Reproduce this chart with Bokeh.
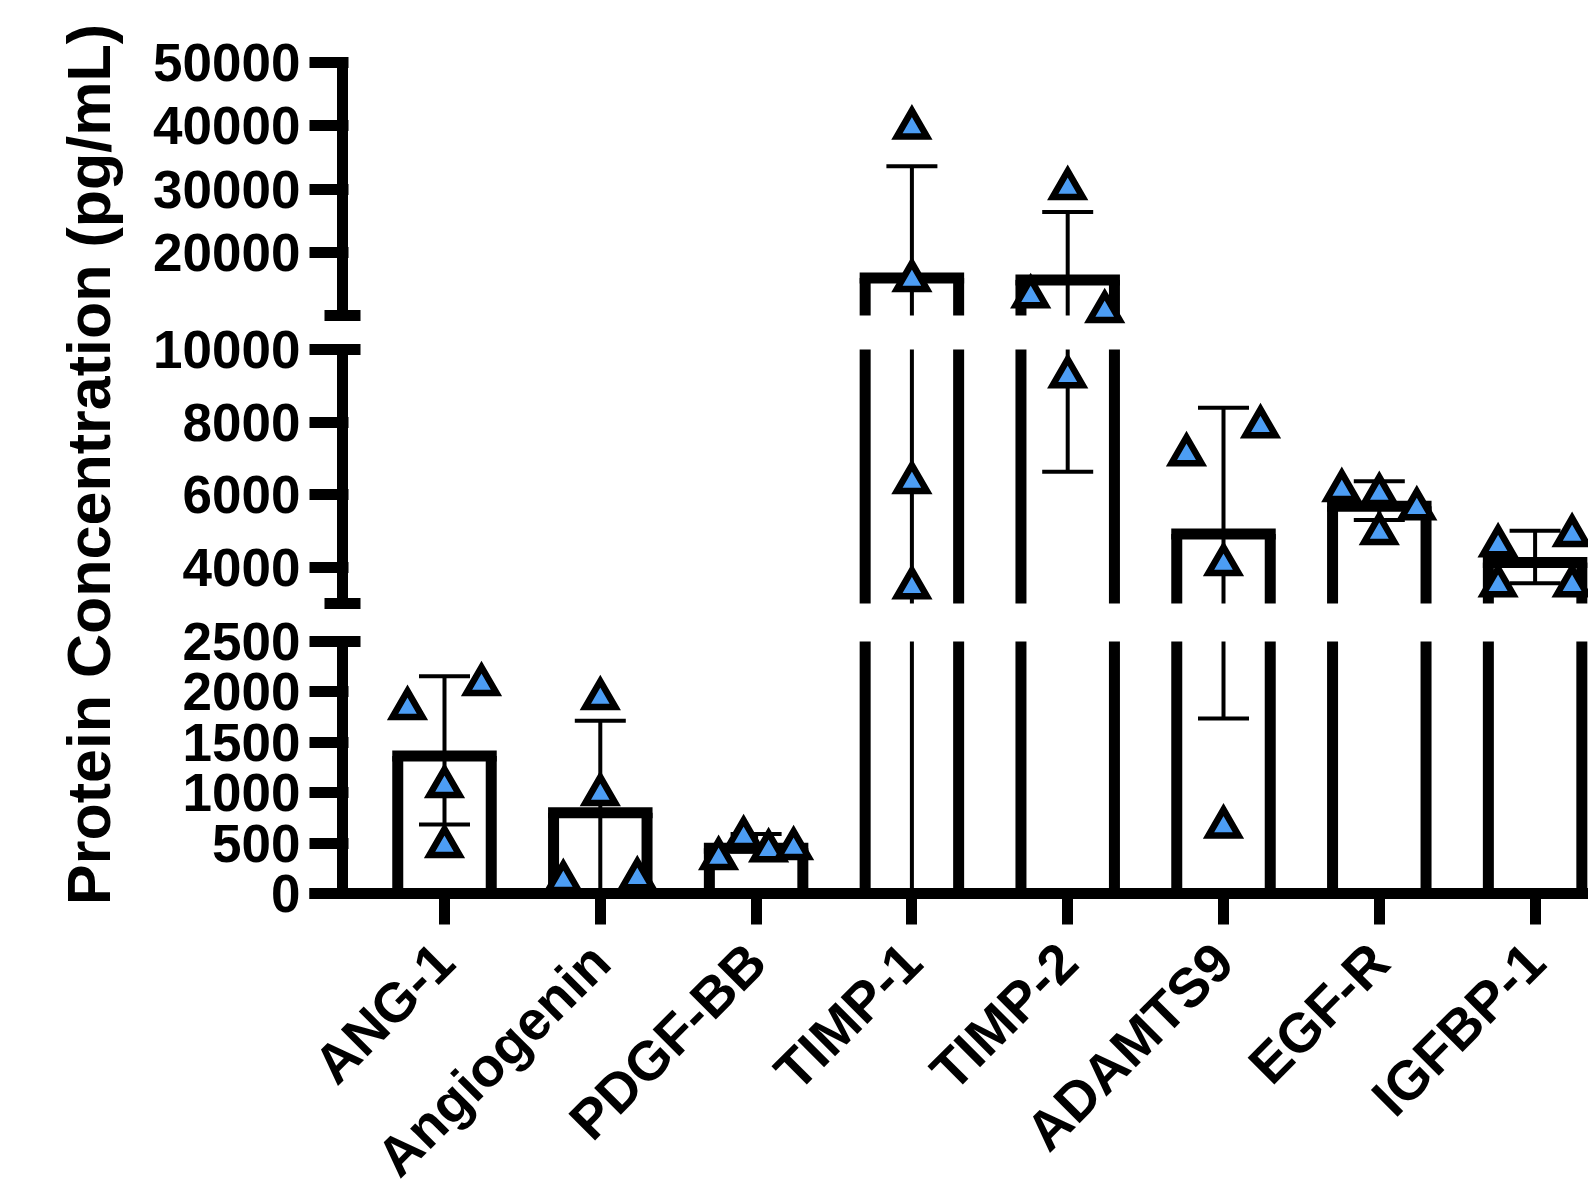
import math
import numpy as np
from bokeh.plotting import figure
from bokeh.models import Range1d, FixedTicker, Title
from bokeh.layouts import row
from bokeh.embed import file_html
from bokeh.resources import INLINE

# ---------------- data ----------------
categories = ["ANG-1", "Angiogenin", "PDGF-BB", "TIMP-1", "TIMP-2", "ADAMTS9", "EGF-R", "IGFBP-1"]
ang1 = [1895, 2133, 1121, 526]
angiogenin = [1994, 1042, 179, 208]
pdgf_bb = [407, 615, 486, 506]
timp1 = [40600, 16500, 6500, 3600]
timp2 = [31030, 13950, 11580, 9420]
adamts9 = [7270, 8040, 4240, 720]
egf_r = [6280, 6170, 5780, 5100]
igfbp1 = [4760, 5040, 3660, 3660]
replicates = [ang1, angiogenin, pdgf_bb, timp1, timp2, adamts9, egf_r, igfbp1]

bottom_segment = (0, 2500)
middle_segment = (3000, 10000)
top_segment = (10000, 50000)
bottom_ticks = [0, 500, 1000, 1500, 2000, 2500]
middle_ticks = [4000, 6000, 8000, 10000]
top_ticks = [20000, 30000, 40000, 50000]
y_title = "Protein Concentration (pg/mL)"

# ---------------- style / layout ----------------
FONT = "Liberation Sans"
BLUE = "#4C9DF4"
TOTAL_W, TOTAL_H = 1588, 1188
TITLE_W = 140
FRAME_LEFT = 309          # canvas x of plot frame's left edge
FRAME_TOP = 60
FRAME_BOTTOM = 893        # canvas y of the x axis
FRAME_W = TOTAL_W - FRAME_LEFT
FRAME_H = FRAME_BOTTOM - FRAME_TOP
CAT_PX = 155.8            # spacing between categories
FIRST_CAT_PX = 135        # first category from frame left
AXIS_PX = 33              # y axis line from frame left
CAP_HALF_PX = 18
AXIS_W = 11
BAR_W = 0.6
MARKER_SIZE = 30
MARKER_LW = 6.5
MARKER_PX = 37
STEP_PX = 74
MAX_SPREAD_PX = 75
# pixel extent (from x axis upward) of each axis segment
segment_px = [(0, 252), (290, 544), (578, 831)]
segments = [bottom_segment, middle_segment, top_segment]
segment_ticks = [bottom_ticks, middle_ticks, top_ticks]

x_start = -FIRST_CAT_PX / CAT_PX
x_end = x_start + FRAME_W / CAT_PX
axis_x = x_start + AXIS_PX / CAT_PX


def seg_of(v):
    if v > top_segment[0]:
        return 2
    if v > (bottom_segment[1] + middle_segment[0]) / 2:
        return 1
    return 0


def to_px(v, s=None):
    if s is None:
        s = seg_of(v)
    lo, hi = segments[s]
    plo, phi = segment_px[s]
    return plo + (v - lo) / (hi - lo) * (phi - plo)


def spread_offsets(vals):
    ps = [to_px(v) for v in vals]
    order = sorted(range(len(vals)), key=lambda i: -ps[i])
    clusters = []
    for i in order:
        if clusters and ps[clusters[-1][0]] - ps[i] < MARKER_PX:
            clusters[-1].append(i)
        else:
            clusters.append([i])
    offs = [0.0] * len(vals)
    for c in clusters:
        c = sorted(c)
        n = len(c)
        if n > 1:
            spread = min((n - 1) * STEP_PX, MAX_SPREAD_PX)
            for k, i in enumerate(c):
                offs[i] = (-spread / 2 + k * spread / (n - 1)) / CAT_PX
    return offs


xs = list(range(len(categories)))
means = [float(np.mean(r)) for r in replicates]
sds = [float(np.std(r, ddof=1)) for r in replicates]
uppers = [m + s for m, s in zip(means, sds)]
lowers = [m - s for m, s in zip(means, sds)]

# bars (split over the axis segments), error bars, points
side_x, side_y0, side_y1 = [], [], []
top_x0, top_x1, top_y = [], [], []
stem_x, stem_y0, stem_y1 = [], [], []
cap_x, cap_y = [], []
for i, (m, up, lw_) in enumerate(zip(means, uppers, lowers)):
    for s, (lo, hi) in enumerate(segments):
        plo, phi = segment_px[s]
        if m > lo:
            if m <= hi:
                ptop = to_px(m, s) - AXIS_W / 2
                top_x0.append(i - BAR_W / 2)
                top_x1.append(i + BAR_W / 2)
                top_y.append(ptop)
            else:
                ptop = phi
            for dx in (-BAR_W / 2, BAR_W / 2):
                side_x.append(i + dx)
                side_y0.append(plo)
                side_y1.append(ptop)
        a, b = max(lw_, lo), min(up, hi)
        if a < b:
            stem_x.append(i)
            stem_y0.append(to_px(a, s))
            stem_y1.append(to_px(b, s))
    for v in (up, lw_):
        if v >= 0:
            cap_x.append(i)
            cap_y.append(to_px(v))

pt_x, pt_y = [], []
tri_h = MARKER_SIZE * math.sqrt(3) / 2
anchor_shift = tri_h / 6 + MARKER_LW / 4   # centre the symbol's box on the value
for i, r in enumerate(replicates):
    for v, o in zip(r, spread_offsets(r)):
        pt_x.append(i + o)
        pt_y.append(to_px(v) - anchor_shift)

# broken y axis pieces and their end caps
ax_y0 = [p_[0] for p_ in segment_px]
ax_y1 = [p_[1] for p_ in segment_px]
cap_pos = [segment_px[0][1], segment_px[1][0], segment_px[1][1], segment_px[2][0]]

tick_pos, tick_labels = [], {}
for s, ticks in enumerate(segment_ticks):
    for t in ticks:
        pp = to_px(t, s)
        tick_pos.append(pp)
        tick_labels[pp] = str(t)

p = figure(
    x_range=Range1d(x_start, x_end), y_range=Range1d(0, FRAME_H),
    frame_width=FRAME_W, frame_height=FRAME_H,
    min_border_left=FRAME_LEFT - TITLE_W, min_border_right=0,
    min_border_top=FRAME_TOP, min_border_bottom=TOTAL_H - FRAME_BOTTOM,
    output_backend="svg", toolbar_location=None,
)
p.outline_line_color = None
p.grid.visible = False
p.background_fill_color = "white"

p.segment(x0=side_x, y0=side_y0, x1=side_x, y1=side_y1, line_color="black",
          line_width=AXIS_W, line_cap="butt")
p.segment(x0=top_x0, y0=top_y, x1=top_x1, y1=top_y, line_color="black",
          line_width=AXIS_W, line_cap="square")
p.segment(x0=stem_x, y0=stem_y0, x1=stem_x, y1=stem_y1, line_color="black", line_width=4)
p.scatter(x=cap_x, y=cap_y, marker="dash", size=51, line_color="black", line_width=4)
p.scatter(x=pt_x, y=pt_y, marker="triangle", size=MARKER_SIZE, fill_color=BLUE,
          line_color="black", line_width=MARKER_LW, line_join="miter")

# y axis: pieces + caps
p.segment(x0=[axis_x] * 3, y0=ax_y0, x1=[axis_x] * 3, y1=ax_y1, line_color="black",
          line_width=AXIS_W, line_cap="butt")
cap_dx = CAP_HALF_PX / CAT_PX
p.segment(x0=[axis_x - cap_dx] * 4, y0=cap_pos, x1=[axis_x + cap_dx] * 4, y1=cap_pos,
          line_color="black", line_width=AXIS_W, line_cap="butt")

ya = p.yaxis[0]
ya.ticker = FixedTicker(ticks=tick_pos, minor_ticks=[])
ya.major_label_overrides = tick_labels
ya.axis_line_color = None
ya.major_tick_line_width = AXIS_W
ya.major_tick_in = AXIS_PX + AXIS_W // 2 + 1
ya.major_tick_out = 0
ya.minor_tick_line_color = None
ya.major_label_text_font = FONT
ya.major_label_text_font_style = "bold"
ya.major_label_text_font_size = "53px"
ya.major_label_text_color = "black"
ya.major_label_standoff = 9

xa = p.xaxis[0]
xa.ticker = FixedTicker(ticks=xs, minor_ticks=[])
xa.major_label_overrides = {i: c for i, c in enumerate(categories)}
xa.axis_line_width = AXIS_W
xa.axis_line_color = "black"
xa.major_tick_line_width = AXIS_W
xa.major_tick_out = 31
xa.major_tick_in = 0
xa.minor_tick_line_color = None
xa.major_label_orientation = math.pi / 4
xa.major_label_text_font = FONT
xa.major_label_text_font_style = "bold"
xa.major_label_text_font_size = "55px"
xa.major_label_text_color = "black"
xa.major_label_standoff = 28

title_fig = figure(width=TITLE_W, height=TOTAL_H, min_border_left=124, min_border_right=0,
                   min_border_top=0, min_border_bottom=TOTAL_H - 963,
                   x_axis_location=None, y_axis_location=None,
                   output_backend="svg", toolbar_location=None)
title_fig.outline_line_color = None
title_fig.grid.visible = False
title_fig.add_layout(Title(text=y_title, align="center", text_font=FONT,
                           text_font_style="bold", text_font_size="61px",
                           text_color="black", standoff=4), "left")

layout = row(title_fig, p, spacing=0)
open("out.html", "w").write(file_html(layout, INLINE))
